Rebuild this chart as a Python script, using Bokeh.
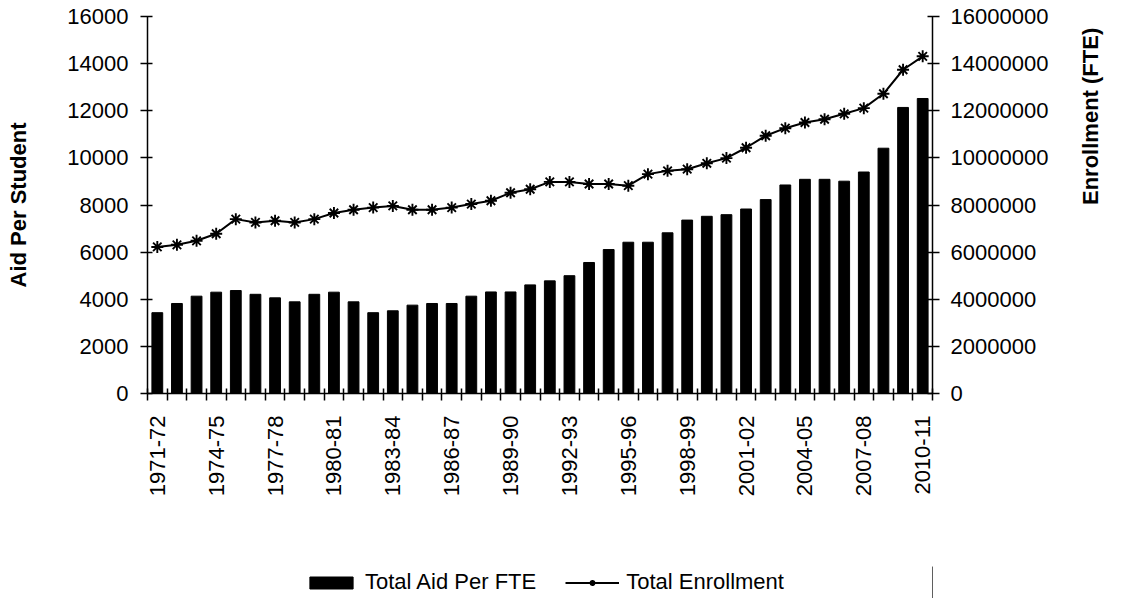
import numpy as np
from bokeh.plotting import figure
from bokeh.layouts import column
from bokeh.models import (Range1d, LinearAxis, FixedTicker, NumeralTickFormatter,
                          Legend, LegendItem)
from bokeh.embed import file_html
from bokeh.resources import INLINE

years = ["1971-72", "1972-73", "1973-74", "1974-75", "1975-76", "1976-77", "1977-78",
         "1978-79", "1979-80", "1980-81", "1981-82", "1982-83", "1983-84", "1984-85",
         "1985-86", "1986-87", "1987-88", "1988-89", "1989-90", "1990-91", "1991-92",
         "1992-93", "1993-94", "1994-95", "1995-96", "1996-97", "1997-98", "1998-99",
         "1999-00", "2000-01", "2001-02", "2002-03", "2003-04", "2004-05", "2005-06",
         "2006-07", "2007-08", "2008-09", "2009-10", "2010-11"]

aid_per_fte = [3430, 3820, 4130, 4300, 4370, 4210, 4060, 3890, 4210, 4300,
               3890, 3430, 3510, 3750, 3820, 3820, 4130, 4310, 4310, 4610,
               4780, 5000, 5560, 6110, 6420, 6420, 6820, 7360, 7520, 7590,
               7830, 8230, 8850, 9090, 9090, 9010, 9400, 10410, 12140, 12520]

total_enrollment = [6220000, 6310000, 6480000, 6780000, 7400000, 7260000, 7330000,
                    7260000, 7400000, 7660000, 7800000, 7890000, 7960000, 7800000,
                    7800000, 7890000, 8040000, 8180000, 8520000, 8670000, 8980000,
                    8980000, 8890000, 8890000, 8820000, 9310000, 9450000, 9520000,
                    9770000, 9990000, 10430000, 10940000, 11260000, 11500000, 11640000,
                    11870000, 12110000, 12720000, 13740000, 14310000]

shown_labels = ["1971-72", "1974-75", "1977-78", "1980-81", "1983-84", "1986-87",
                "1989-90", "1992-93", "1995-96", "1998-99", "2001-02", "2004-05",
                "2007-08", "2010-11"]

left_ticks = [0, 2000, 4000, 6000, 8000, 10000, 12000, 14000, 16000]
right_ticks = [0, 2000000, 4000000, 6000000, 8000000, 10000000, 12000000, 14000000, 16000000]

FONT = "Liberation Sans"
FS = "22px"

n = len(years)
idx = list(range(n))

p = figure(width=1118, height=566, x_range=Range1d(-0.5, n - 0.5),
           y_range=Range1d(0, 16000), output_backend="svg", toolbar_location=None,
           min_border_left=147, min_border_right=181, min_border_top=16,
           min_border_bottom=173)
p.xgrid.visible = False
p.ygrid.visible = False
p.outline_line_color = None
p.background_fill_color = "white"
p.border_fill_color = "white"
p.extra_y_ranges = {"enr": Range1d(0, 16000000)}

bars = p.vbar(x=idx, top=aid_per_fte, width=0.55, fill_color="black", line_color="black")
ln = p.line(idx, total_enrollment, y_range_name="enr", line_color="black", line_width=2)
pts = p.scatter(idx, total_enrollment, y_range_name="enr", marker="asterisk", size=12,
                line_color="black", line_width=1.9)

# x axis: boundary ticks as minor ticks, labels every 3rd category
label_pos = [years.index(l) for l in shown_labels]
xa = p.xaxis[0]
xa.ticker = FixedTicker(ticks=label_pos, minor_ticks=[i - 0.5 for i in range(n + 1)])
xa.major_label_overrides = {i: years[i] for i in label_pos}
xa.major_tick_line_color = None
xa.major_tick_in = 0
xa.major_tick_out = 7
xa.minor_tick_in = 5
xa.minor_tick_out = 7
xa.minor_tick_line_color = "black"
xa.minor_tick_line_width = 1.5
xa.axis_line_width = 1.5
xa.major_label_orientation = np.pi / 2
xa.major_label_standoff = 15
xa.major_label_text_font = FONT
xa.major_label_text_font_size = FS
xa.major_label_text_color = "black"

ya = p.yaxis[0]
ya.ticker = FixedTicker(ticks=left_ticks)
ya.formatter = NumeralTickFormatter(format="0")
ya.axis_label = "Aid Per Student"
ya.axis_label_text_font = FONT
ya.axis_label_text_font_size = FS
ya.axis_label_text_font_style = "bold"
ya.axis_label_text_color = "black"
ya.axis_label_standoff = 33
ya.minor_tick_line_color = None
ya.major_tick_in = 5
ya.major_tick_out = 7
ya.major_tick_line_width = 1.5
ya.axis_line_width = 1.5
ya.major_label_standoff = 12
ya.major_label_text_font = FONT
ya.major_label_text_font_size = FS
ya.major_label_text_color = "black"

ra = LinearAxis(y_range_name="enr", ticker=FixedTicker(ticks=right_ticks),
                formatter=NumeralTickFormatter(format="0"))
ra.axis_label = "Enrollment (FTE)"
ra.axis_label_text_font = FONT
ra.axis_label_text_font_size = FS
ra.axis_label_text_font_style = "bold"
ra.axis_label_text_color = "black"
ra.axis_label_standoff = 39
if "axis_label_orientation" in LinearAxis.properties():
    ra.axis_label_orientation = np.pi / 2
ra.minor_tick_line_color = None
ra.major_tick_in = 5
ra.major_tick_out = 7
ra.major_tick_line_width = 1.5
ra.axis_line_width = 1.5
ra.major_label_standoff = 11
ra.major_label_text_font = FONT
ra.major_label_text_font_size = FS
ra.major_label_text_color = "black"
p.add_layout(ra, "right")

# legend strip below the chart: a small figure whose glyphs (styled like the
# chart's bars and line) sit outside its visible range, only to feed the legend
lg = figure(width=1118, height=32, x_range=Range1d(0, 1), y_range=Range1d(0, 1),
            output_backend="svg", toolbar_location=None, x_axis_type=None,
            y_axis_type=None, min_border=0)
lg.xgrid.visible = False
lg.ygrid.visible = False
lg.outline_line_color = None
lg.background_fill_color = "white"
lg.border_fill_color = "white"
lb = lg.vbar(x=[5], top=[5], width=0.5, fill_color="black", line_color="black")
ll = lg.line([5, 6], [5, 6], line_color="black", line_width=2)
lp = lg.scatter([5], [5], marker="asterisk", size=12, line_color="black", line_width=1.9)

legend = Legend(items=[LegendItem(label="Total Aid Per FTE", renderers=[lb]),
                       LegendItem(label="Total Enrollment", renderers=[ll, lp])],
                location=(157, 3), orientation="horizontal",
                glyph_width=54, glyph_height=15, label_standoff=7, spacing=29,
                padding=0, margin=0, border_line_color=None,
                background_fill_alpha=0,
                label_text_font=FONT, label_text_font_size=FS,
                label_text_color="black")
lg.add_layout(legend)

layout = column(p, lg)
open("out.html", "w").write(file_html(layout, INLINE))
